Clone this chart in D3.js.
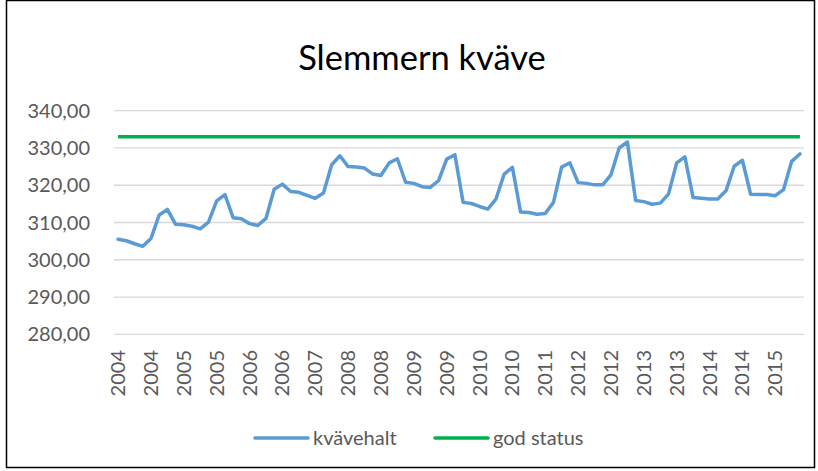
<!DOCTYPE html>
<html>
<head>
<meta charset="utf-8">
<script src="https://cdn.jsdelivr.net/npm/d3@7"></script>
<style>
  body { margin: 0; background: #fff; }
  svg text { font-family: Lato, "Open Sans", sans-serif; fill: #595959; }
</style>
</head>
<body>
<svg id="chart" width="818" height="471"></svg>
<script>
// kvävehalt, 7 samples per year 2004-2015
var kvavehalt = [
  305.5, 305.1, 304.3, 303.6, 305.7, 312.0, 313.5,
  309.5, 309.4, 309.0, 308.3, 310.1, 315.8, 317.5,
  311.3, 311.0, 309.7, 309.2, 311.1, 318.9, 320.3,
  318.3, 318.1, 317.3, 316.5, 317.9, 325.5, 327.9,
  325.0, 324.9, 324.6, 323.0, 322.6, 326.0, 327.1,
  320.8, 320.5, 319.6, 319.4, 321.2, 327.0, 328.2,
  315.4, 315.1, 314.3, 313.6, 316.3, 323.0, 324.8,
  312.8, 312.7, 312.2, 312.4, 315.4, 324.9, 326.0,
  320.7, 320.5, 320.1, 320.1, 322.8, 330.0, 331.6,
  315.9, 315.6, 314.9, 315.2, 317.6, 326.0, 327.6,
  316.7, 316.5, 316.3, 316.3, 318.5, 325.1, 326.7,
  317.6, 317.5, 317.5, 317.2, 318.8, 326.4, 328.4
];
var godStatus = 333;
var tickLabels = ['2004', '2004', '2005', '2005', '2006', '2006', '2007', '2008', '2008', '2009', '2009',
                  '2010', '2010', '2011', '2012', '2012', '2013', '2013', '2014', '2014', '2015'];
var labelStep = 4;
var yTicks = [280, 290, 300, 310, 320, 330, 340];

(function () {
  var svg = d3.select('#chart');
  var plotLeft = 114, plotRight = 804, plotTop = 110.7, plotBottom = 334.3;

  // border
  svg.append('rect')
    .attr('x', 6.5).attr('y', 0.5)
    .attr('width', 808).attr('height', 467)
    .attr('fill', 'none').attr('stroke', '#000').attr('stroke-width', 1.5);

  var x = d3.scaleBand()
    .domain(d3.range(kvavehalt.length))
    .range([plotLeft, plotRight]);

  var y = d3.scaleLinear().domain([280, 340]).range([plotBottom, plotTop]);

  // gridlines
  svg.append('g').selectAll('line')
    .data(yTicks)
    .enter().append('line')
    .attr('x1', plotLeft).attr('x2', plotRight)
    .attr('y1', function(d) { return y(d); })
    .attr('y2', function(d) { return y(d); })
    .attr('stroke', '#d9d9d9').attr('stroke-width', 1.3);

  var fmt = function(d) { return d3.format('.2f')(d).replace('.', ','); };
  svg.append('g').selectAll('text')
    .data(yTicks)
    .enter().append('text')
    .attr('x', 90)
    .attr('y', function(d) { return y(d); })
    .attr('dy', '0.35em')
    .attr('text-anchor', 'end')
    .style('font-size', '20px')
    .text(fmt);

  // x labels, every 4th category
  svg.append('g').selectAll('text')
    .data(tickLabels)
    .enter().append('text')
    .attr('transform', function(d, i) {
      var c = x(i * labelStep) + x.bandwidth() / 2;
      return 'translate(' + c + ',350) rotate(-90)';
    })
    .attr('dy', '0.35em')
    .attr('text-anchor', 'end')
    .style('font-size', '20px')
    .text(function(d) { return d; });

  var cx = function(d, i) { return x(i) + x.bandwidth() / 2; };

  svg.append('path')
    .datum(kvavehalt.map(function() { return godStatus; }))
    .attr('fill', 'none')
    .attr('stroke', '#00b050')
    .attr('stroke-width', 3.5)
    .attr('d', d3.line().x(cx).y(function(d) { return y(d); }));

  svg.append('path')
    .datum(kvavehalt)
    .attr('fill', 'none')
    .attr('stroke', '#5b9bd5')
    .attr('stroke-width', 3.5)
    .attr('stroke-linejoin', 'round')
    .attr('stroke-linecap', 'round')
    .attr('d', d3.line().x(cx).y(function(d) { return y(d); }));

  // title
  svg.append('text')
    .attr('x', 422).attr('y', 70)
    .attr('text-anchor', 'middle')
    .style('font-size', '34.5px')
    .style('fill', '#000')
    .text('Slemmern kväve');

  // legend
  var legend = [
    { name: 'kvävehalt', color: '#5b9bd5', x: 255 },
    { name: 'god status', color: '#00b050', x: 435 }
  ];
  var lg = svg.append('g').selectAll('g')
    .data(legend)
    .enter().append('g')
    .attr('transform', function(d) { return 'translate(' + d.x + ',438)'; });
  lg.append('line')
    .attr('x1', 0).attr('x2', 53)
    .attr('stroke', function(d) { return d.color; })
    .attr('stroke-width', 3.5)
    .attr('stroke-linecap', 'round');
  lg.append('text')
    .attr('x', 58)
    .attr('dy', '0.35em')
    .style('font-size', '20px')
    .text(function(d) { return d.name; });
})();
</script>
</body>
</html>
